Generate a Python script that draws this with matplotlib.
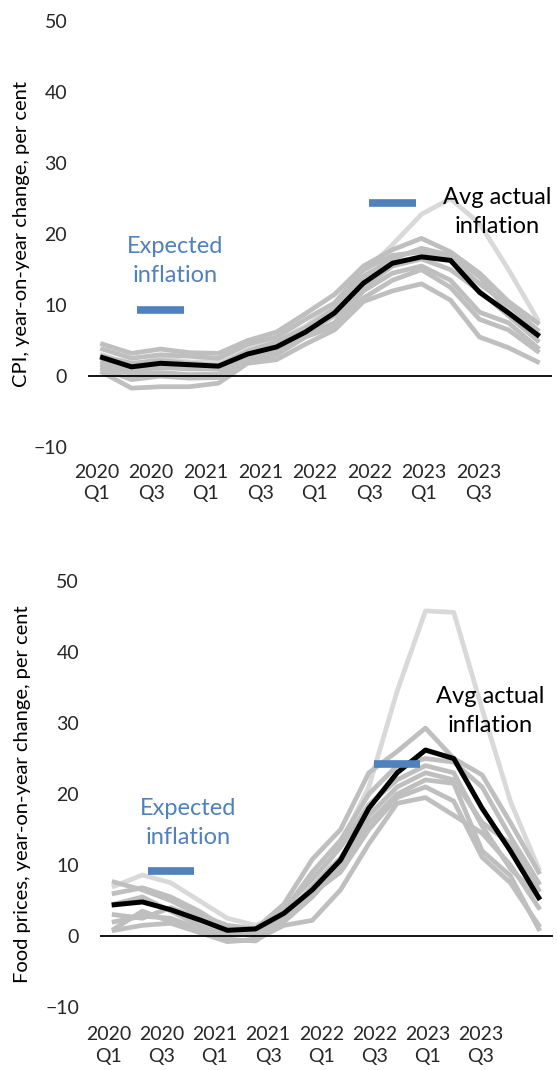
import numpy as np
import matplotlib.pyplot as plt

plt.rcParams['font.family'] = ['Lato', 'DejaVu Sans']

quarters = ['2020 Q1', '2020 Q2', '2020 Q3', '2020 Q4',
            '2021 Q1', '2021 Q2', '2021 Q3', '2021 Q4',
            '2022 Q1', '2022 Q2', '2022 Q3', '2022 Q4',
            '2023 Q1', '2023 Q2', '2023 Q3', '2023 Q4']
tick_labels = ['2020\nQ1', '2020\nQ3', '2021\nQ1', '2021\nQ3',
               '2022\nQ1', '2022\nQ3', '2023\nQ1', '2023\nQ3']

# CPI, year-on-year change, per cent (one row per country)
cpi_countries = [
    [4.5, 3.2, 3.8, 3.3, 3.2, 5.0, 6.2, 8.8, 11.5, 15.5, 17.8, 19.4, 17.5, 14.5, 10.5, 7.5],
    [3.8, 2.5, 3.0, 2.8, 2.5, 4.5, 5.5, 8.0, 10.3, 15.0, 17.0, 17.5, 16.5, 13.0, 10.0, 6.5],
    [2.0, 0.8, 1.2, 1.0, 1.0, 3.0, 4.0, 6.0, 8.5, 12.5, 15.5, 16.5, 15.0, 12.0, 8.5, 5.0],
    [1.0, -0.5, 0.0, -0.3, -0.2, 2.0, 3.0, 5.5, 7.0, 11.0, 13.5, 15.0, 12.5, 8.0, 6.5, 3.5],
    [0.5, -1.7, -1.5, -1.5, -1.0, 1.8, 2.3, 4.5, 6.5, 10.5, 12.0, 13.0, 10.7, 5.5, 4.0, 2.0],
    [2.8, 1.8, 2.2, 1.8, 1.5, 3.5, 4.8, 6.8, 9.5, 14.0, 16.5, 18.0, 17.0, 14.0, 9.0, 6.0],
    [1.5, 0.3, 0.5, 0.2, 0.3, 2.5, 3.5, 5.8, 7.5, 12.0, 14.5, 15.5, 13.5, 9.0, 7.5, 4.0],
]
cpi_outlier = [3.0, 1.5, 2.5, 2.0, 2.0, 4.0, 5.0, 7.0, 10.0, 14.5, 18.5, 22.8, 25.0, 21.5, 15.0, 8.0]
cpi_avg = [2.6, 1.3, 1.8, 1.6, 1.4, 3.1, 4.1, 6.2, 8.9, 13.1, 15.9, 16.8, 16.3, 11.8, 8.9, 5.8]
cpi_expected = [9.3, 24.4]

# Food prices, year-on-year change, per cent
food_countries = [
    [7.6, 6.5, 5.0, 3.0, 1.5, 1.0, 4.5, 10.8, 15.0, 23.0, 26.0, 29.3, 25.0, 22.7, 16.0, 9.0],
    [6.0, 6.8, 5.5, 3.5, 1.0, 0.5, 3.5, 9.0, 13.5, 20.0, 24.0, 25.0, 24.5, 21.0, 14.0, 7.5],
    [3.0, 2.5, 4.0, 2.5, 0.5, 0.0, 2.5, 7.0, 11.0, 17.0, 21.0, 23.0, 22.0, 16.0, 13.0, 6.5],
    [1.0, 3.5, 2.0, 1.0, -0.5, -0.7, 2.0, 5.5, 10.0, 16.0, 20.0, 22.0, 21.5, 12.0, 8.5, 1.0],
    [0.8, 1.5, 1.8, 0.5, -0.8, -0.5, 1.5, 2.2, 6.5, 13.0, 18.7, 19.5, 17.0, 14.5, 10.0, 4.0],
    [4.5, 5.5, 3.5, 1.5, 0.0, 0.5, 3.8, 8.0, 12.5, 18.5, 22.0, 24.0, 23.0, 15.5, 9.5, 5.5],
    [2.0, 2.8, 2.5, 1.0, 0.2, 0.8, 3.0, 6.0, 9.0, 15.0, 19.5, 21.0, 19.0, 11.1, 7.5, 1.5],
]
food_outlier = [7.0, 8.6, 7.5, 5.0, 2.5, 1.5, 3.0, 6.5, 13.0, 21.0, 34.5, 45.8, 45.6, 32.0, 19.0, 9.5]
food_avg = [4.4, 4.8, 3.7, 2.3, 0.8, 1.0, 3.2, 6.5, 10.7, 18.0, 23.0, 26.2, 25.0, 18.0, 12.0, 5.4]
food_expected = [9.2, 24.2]

expected_at = ['2020 Q3', '2022 Q3']

BLUE = '#4f81bd'
TXT = '#262626'

fig = plt.figure(figsize=(5.57, 10.70), dpi=100)
ax1 = fig.add_axes([0.158, 0.5822, 0.833, 0.398])
ax2 = fig.add_axes([0.1795, 0.0589, 0.813, 0.398])


def panel(ax, countries, outlier, avg, expected, ylabel, label_pos):
    x = np.arange(len(quarters))
    for row in countries:
        ax.plot(x, row, color='#bfbfbf', lw=3.4, zorder=2)
    ax.plot(x, outlier, color='#d9d9d9', lw=3.4, zorder=1.5)
    ax.plot(x, avg, color='black', lw=3.6, zorder=4)
    for q, v in zip(expected_at, expected):
        xi = quarters.index(q)
        ax.hlines(v, xi - 0.82, xi + 0.82, color=BLUE, lw=5.5, zorder=5)
    ax.axhline(0, color='black', lw=1.3, zorder=3)

    ax.set_xlim(-0.5, len(quarters) - 0.5)
    ax.set_ylim(-10, 50)
    ax.set_yticks(np.arange(-10, 51, 10))
    ax.set_xticks(np.arange(len(tick_labels)) * 1.88 - 0.2)
    ax.set_xticklabels(tick_labels, linespacing=1.3)
    ax.tick_params(length=0, labelsize=14, colors=TXT)
    ax.tick_params(axis='y', pad=15)
    for s in ax.spines.values():
        s.set_visible(False)
    ax.set_ylabel(ylabel, fontsize=14.5, color='black')

    ax.text(label_pos[0], label_pos[1], 'Expected\ninflation', color=BLUE,
            fontsize=17, ha='center', va='center', linespacing=1.45)
    ax.text(label_pos[2], label_pos[3], 'Avg actual\ninflation', color='black',
            fontsize=17, ha='center', va='center', linespacing=1.45)


panel(ax1, cpi_countries, cpi_outlier, cpi_avg, cpi_expected,
      'CPI, year-on-year change, per cent', (2.5, 16.2, 13.6, 23.1))
panel(ax2, food_countries, food_outlier, food_avg, food_expected,
      'Food prices, year-on-year change, per cent', (2.6, 15.9, 13.3, 31.7))

ax1.tick_params(axis='x', pad=12)
ax2.tick_params(axis='x', pad=14)
ax1.yaxis.set_label_coords(-0.125, 0.5)
ax2.yaxis.set_label_coords(-0.152, 0.5)

fig.savefig('out.png', dpi=100)
